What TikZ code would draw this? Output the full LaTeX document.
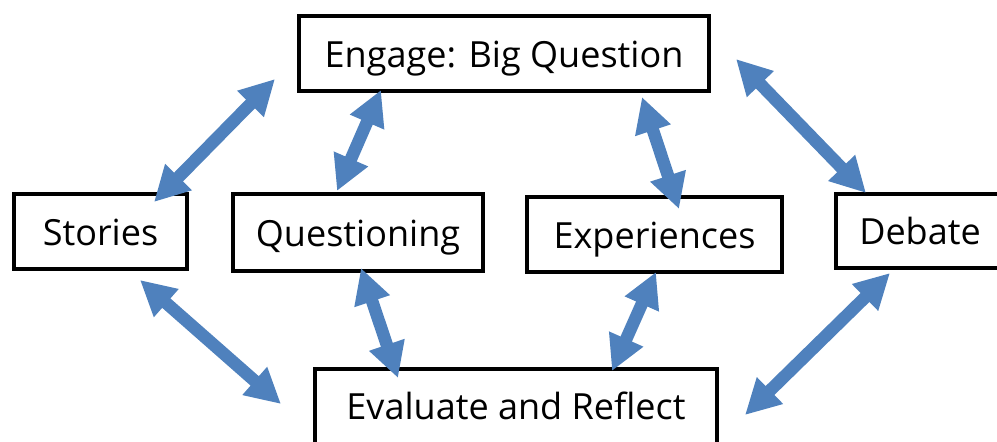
\documentclass[tikz,border=0pt]{standalone}
\usepackage{fontspec}
\setmainfont{Open Sans}
\usetikzlibrary{arrows.meta}
\definecolor{pilblue}{RGB}{79,129,189}
\tikzset{
    % Define arrow tip
    >={Triangle[width=7mm,length=7mm]},
    % Define style for boxes
    boks/.style={
           rectangle,
           draw=black, line width=0.08cm,
           inner sep=0pt,
           minimum height=1.5cm,
           text height=0.56cm,
           text depth=0.02cm,
           font=\fontsize{20.5}{24}\selectfont,
           text centered},
    % Define arrow style
    pil/.style={
           <->,
           draw=pilblue,
           fill=pilblue,
           line width=0.25cm}
}
\begin{document}
\begin{tikzpicture}
 \useasboundingbox (0,0) rectangle (19.94,-8.82);
 \clip (0,0) rectangle (19.94,-8.82);
 \node[boks, minimum width=8.2cm] (engage) at (10.08,-1.07) {Engage: Big Question};
 \node[boks, minimum width=3.46cm] (stories) at (2.01,-4.63) {Stories};
 \node[boks, minimum width=5.0cm, minimum height=1.54cm] (questioning) at (7.16,-4.65) {Questioning};
 \node[boks, minimum width=5.1cm] (experiences) at (13.09,-4.69) {Experiences};
 \node[boks, minimum width=3.36cm, minimum height=1.48cm] (debate) at (18.4,-4.62) {Debate};
 \node[boks, minimum width=8.04cm] (evaluate) at (10.32,-8.12) {Evaluate and Reflect};
 % upper arrows
 \draw[pil] ([xshift=-0.7cm,yshift=-0.2cm]stories.north east) -- ([xshift=-0.44cm,yshift=0.28cm]engage.south west);
 \draw[pil] ([xshift=-0.42cm,yshift=0.02cm]questioning.north) -- ([xshift=1.68cm,yshift=0.06cm]engage.south west);
 \draw[pil] ([xshift=-1.38cm,yshift=-0.08cm]engage.south east) -- ([xshift=0.49cm,yshift=-0.28cm]experiences.north);
 \draw[pil] ([xshift=0.5cm,yshift=-0.11cm]engage.east) -- ([xshift=0.64cm,yshift=-0.02cm]debate.north west);
 % lower arrows
 \draw[pil] ([xshift=0.79cm,yshift=-0.18cm]stories.south) -- ([xshift=-0.64cm,yshift=0.04cm]evaluate.west);
 \draw[pil] ([xshift=0.06cm,yshift=0.1cm]questioning.south) -- ([xshift=1.7cm,yshift=-0.23cm]evaluate.north west);
 \draw[pil] ([xshift=0.03cm,yshift=0.04cm]experiences.south) -- ([xshift=-2.14cm,yshift=-0.09cm]evaluate.north east);
 \draw[pil] ([xshift=-0.6cm,yshift=-0.06cm]debate.south) -- ([xshift=0.52cm,yshift=-0.18cm]evaluate.east);
\end{tikzpicture}
\end{document}
